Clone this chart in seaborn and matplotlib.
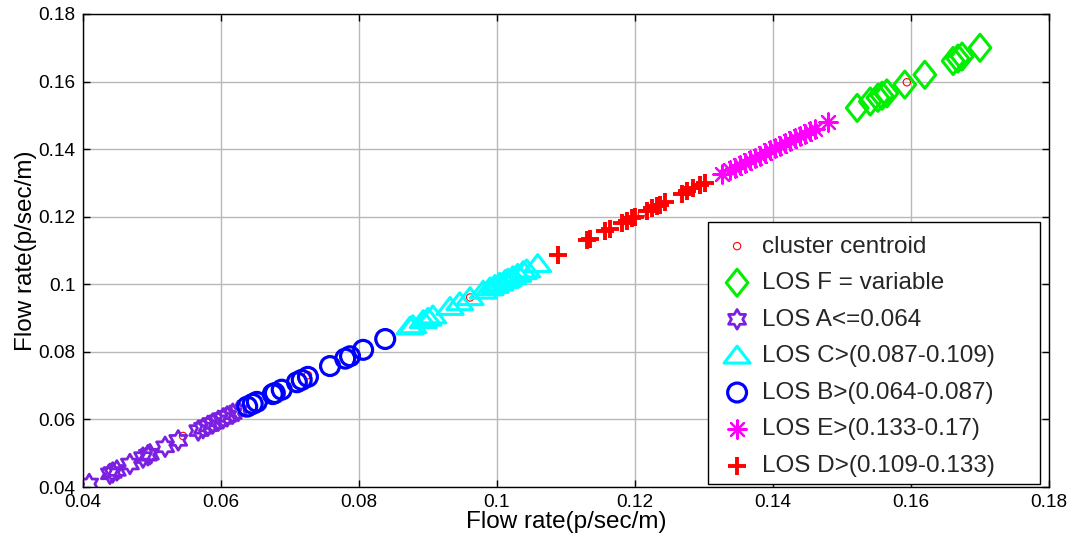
import numpy as np
import pandas as pd
import matplotlib
matplotlib.use("Agg")
import matplotlib.pyplot as plt
from matplotlib.path import Path
from matplotlib.patches import Rectangle
from matplotlib.ticker import FuncFormatter
import seaborn as sns

# Flow rate values (p/sec/m) for each level-of-service cluster
los_a = [0.0409, 0.0439, 0.0443, 0.0449, 0.0468, 0.0487, 0.0494, 0.0497, 0.0519,
         0.0538, 0.0567, 0.0574, 0.0581, 0.0588, 0.0596, 0.0603, 0.0609, 0.0617, 0.0625]
los_b = [0.0638, 0.0646, 0.0652, 0.0675, 0.0678, 0.0688, 0.0710, 0.0717, 0.0726,
         0.0758, 0.0780, 0.0787, 0.0806, 0.0838]
los_c = [0.0874, 0.0878, 0.0893, 0.0900, 0.0907, 0.0932, 0.0946, 0.0961, 0.0980,
         0.0990, 0.0997, 0.1004, 0.1012, 0.1016, 0.1023, 0.1030, 0.1038, 0.1043, 0.1059]
los_d = [0.1088, 0.1130, 0.1135, 0.1157, 0.1164, 0.1181, 0.1188, 0.1196, 0.1200,
         0.1217, 0.1225, 0.1232, 0.1236, 0.1243, 0.1268, 0.1275, 0.1284, 0.1294, 0.1301]
los_e = [0.1326, 0.1338, 0.1345, 0.1352, 0.1359, 0.1367, 0.1374, 0.1381, 0.1388, 0.1396,
         0.1403, 0.1410, 0.1417, 0.1425, 0.1432, 0.1439, 0.1446, 0.1454, 0.1461, 0.1480]
los_f = [0.1522, 0.1541, 0.1552, 0.1558, 0.1565, 0.1591, 0.1620, 0.1661, 0.1668, 0.1674, 0.1700]

centroid_x = [0.0545, 0.0726, 0.0961, 0.1210, 0.1400, 0.1594]
centroid_y = [0.0551, 0.0731, 0.0961, 0.1210, 0.1400, 0.1598]

labels = ["cluster centroid", "LOS F = variable", "LOS A<=0.064", "LOS C>(0.087-0.109)",
          "LOS B>(0.064-0.087)", "LOS E>(0.133-0.17)", "LOS D>(0.109-0.133)"]
ticks = [0.04, 0.06, 0.08, 0.10, 0.12, 0.14, 0.16, 0.18]

sns.set_theme(style="white")
plt.rcParams["font.family"] = ["Liberation Sans", "DejaVu Sans"]


def hexagram():
    ang = np.deg2rad(90 + 30 * np.arange(12))
    r = np.where(np.arange(12) % 2 == 0, 1.0, 1 / np.sqrt(3))
    verts = np.column_stack([r * np.cos(ang), r * np.sin(ang)])
    verts = np.vstack([verts, verts[:1]])
    codes = [Path.MOVETO] + [Path.LINETO] * 11 + [Path.CLOSEPOLY]
    return Path(verts, codes)


def closed(points):
    verts = np.vstack([points, points[:1]])
    codes = [Path.MOVETO] + [Path.LINETO] * (len(points) - 1) + [Path.CLOSEPOLY]
    return Path(verts, codes)


tri_marker = closed(np.array([[0, 0.75], [-1, -0.55], [1, -0.55]]))
dia_marker = closed(np.array([[0, 1.25], [1, 0], [0, -1.25], [-1, 0]]))
star_marker = hexagram()

fig = plt.figure(figsize=(10.74, 5.41), dpi=100)
ax = fig.add_axes([83 / 1074, 1 - 487 / 541, (1049 - 83) / 1074, (487 - 14) / 541])

# Cluster centroids first, so the cluster markers sit over them
cent = pd.DataFrame({"x": centroid_x, "y": centroid_y})
sns.scatterplot(data=cent, x="x", y="y", ax=ax, marker="o", s=28,
                facecolor="none", edgecolor="red", linewidth=0.8,
                label=labels[0], legend=False)

groups = [
    (los_f, labels[1], dia_marker, "#00ee00", 380, 2.2, True),
    (los_a, labels[2], star_marker, "#7b20e0", 200, 2.0, True),
    (los_c, labels[3], tri_marker, "#00ffff", 350, 2.2, True),
    (los_b, labels[4], "o", "#0000ff", 185, 2.3, True),
    (los_e, labels[5], (8, 2, 0), "#ff00ff", 175, 1.6, False),
    (los_d, labels[6], "+", "#ff0000", 180, 2.8, False),
]
for vals, lab, mk, col, size, lw, filled in groups:
    df = pd.DataFrame({"x": vals, "y": vals})
    if filled:
        sns.scatterplot(data=df, x="x", y="y", ax=ax, marker=mk, s=size,
                        facecolor="none", edgecolor=col, linewidth=lw,
                        label=lab, legend=False)
    else:
        sns.scatterplot(data=df, x="x", y="y", ax=ax, marker=mk, s=size,
                        color=col, linewidth=lw, label=lab, legend=False)

ax.set_xlim(0.04, 0.18)
ax.set_ylim(0.04, 0.18)
ax.set_xticks(ticks)
ax.set_yticks(ticks)
fmt = FuncFormatter(lambda v, p: f"{v:g}")
ax.xaxis.set_major_formatter(fmt)
ax.yaxis.set_major_formatter(fmt)
ax.grid(True, color="#b8b8b8", linewidth=1.0, linestyle="-")
ax.set_axisbelow(True)
for sp in ax.spines.values():
    sp.set_visible(True)
    sp.set_color("black")
    sp.set_linewidth(1.0)
ax.tick_params(axis="both", direction="in", length=5, width=1, colors="black",
               labelsize=13.7, top=True, right=True, bottom=True, left=True)
ax.tick_params(axis="x", pad=5)
ax.tick_params(axis="y", pad=5.5)
ax.set_xlabel("Flow rate(p/sec/m)", fontsize=17.5, color="black", labelpad=0)
ax.set_ylabel("Flow rate(p/sec/m)", fontsize=17.5, color="black", labelpad=1)

# Legend box drawn as its own rectangle (wider right margin than the text needs)
ax.add_patch(Rectangle(((708 - 83) / 966, 3 / 473), (1040 - 708) / 966, (484 - 222) / 473,
                       transform=ax.transAxes, facecolor="white", edgecolor="black",
                       linewidth=1.0, zorder=4.5, clip_on=False))
leg = ax.legend(loc="upper left", bbox_to_anchor=((722.5 - 83) / 966, (487 - 235.5) / 473),
                fontsize=17.5, frameon=False, scatterpoints=1, borderpad=0,
                handlelength=1.2, handletextpad=0.43, labelspacing=0.6,
                borderaxespad=0)
leg.set_zorder(5)

fig.savefig("out.png", dpi=100)
